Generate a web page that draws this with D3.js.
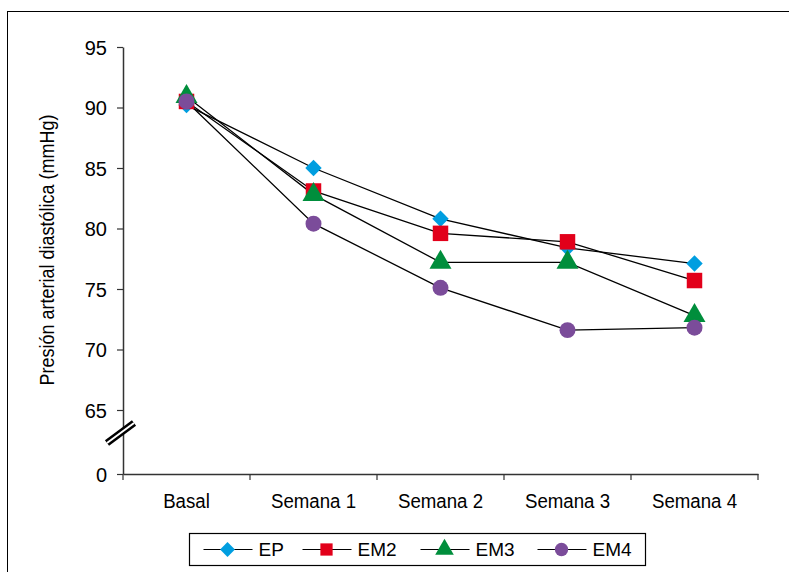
<!DOCTYPE html>
<html>
<head>
<meta charset="utf-8">
<script src="https://cdn.jsdelivr.net/npm/d3@7"></script>
<style>
  body { margin: 0; background: #fff; }
  svg { display: block; font-family: 'Liberation Sans Narrow', 'Arial Narrow', 'Liberation Sans', Arial, sans-serif; }
</style>
</head>
<body>
<div id="chart"></div>
<script>
// data
const categories = ['Basal', 'Semana 1', 'Semana 2', 'Semana 3', 'Semana 4'];
const seriesNames = ['EP', 'EM2', 'EM3', 'EM4'];
const valuesEP = [90.2, 85.0, 80.8, 78.4, 77.1];
const valuesEM2 = [90.5, 83.1, 79.6, 78.9, 75.7];
const valuesEM3 = [90.9, 82.8, 77.2, 77.2, 72.8];
const valuesEM4 = [90.5, 80.4, 75.1, 71.6, 71.8];
const yTicks = [0, 65, 70, 75, 80, 85, 90, 95];

const width = 789;
const height = 572;
const margin = { top: 47, left: 123, right: 31, bottom: 98 };
const chartWidth = width - margin.left - margin.right;
const chartHeight = height - margin.top - margin.bottom;

const colors = ['#009ee0', '#e2001a', '#008e3c', '#7b4c9a'];
// diamond = square rotated 45 deg
const symbols = [d3.symbolSquare, d3.symbolSquare, d3.symbolTriangle, d3.symbolCircle];
const rotations = [45, 0, 0, 0];
const symbolSizes = [135, 240, 210, 200];
const legendSizes = [110, 150, 150, 140];
const allValues = [valuesEP, valuesEM2, valuesEM3, valuesEM4];

const x = d3.scaleBand()
  .domain(categories)
  .range([0, chartWidth])
  .paddingInner(0)
  .paddingOuter(0);

// broken axis: 0 sits one step below 65
const y = d3.scaleLinear()
  .domain([0, 65, 95])
  .range([chartHeight, chartHeight - 64, 0]);

const svg = d3.select('#chart')
  .append('svg')
  .attr('width', width)
  .attr('height', height);

// outer frame (cut by the window on right/bottom)
svg.append('rect')
  .attr('x', 7.5)
  .attr('y', 11.5)
  .attr('width', 900)
  .attr('height', 700)
  .attr('fill', 'none')
  .attr('stroke', '#000')
  .attr('stroke-width', 1);

const g = svg.append('g')
  .attr('transform', `translate(${margin.left}, ${margin.top})`);

const yG = g.append('g')
  .call(d3.axisLeft(y).tickValues(yTicks).tickSize(6).tickSizeOuter(0).tickPadding(10));
yG.select('path').style('stroke', '#333').style('stroke-width', 1.5);
yG.selectAll('line').style('stroke', '#333').style('stroke-width', 1.2);
yG.selectAll('text')
  .style('font-size', '20px')
  .style('fill', '#000')
  .attr('dy', '0.36em');

const xG = g.append('g')
  .attr('transform', `translate(0, ${chartHeight})`)
  .call(d3.axisBottom(x).tickSize(0).tickPadding(19));
xG.select('path').style('stroke', '#333').style('stroke-width', 1.5);
xG.selectAll('text')
  .style('font-size', '21px')
  .style('fill', '#000')
  .attr('transform', 'scale(0.89, 1)');

// band boundary ticks
const boundaries = categories.map(c => x(c)).concat([chartWidth]);
g.append('g')
  .selectAll('line')
  .data(boundaries)
  .enter()
  .append('line')
  .attr('x1', d => d)
  .attr('x2', d => d)
  .attr('y1', chartHeight)
  .attr('y2', chartHeight + 6)
  .style('stroke', '#333')
  .style('stroke-width', 1.2);

// axis break mark
const breakY = (y(0) + y(65)) / 2 - 8;
const brk = g.append('g').attr('transform', `translate(-2, ${breakY})`);
brk.append('line')
  .attr('x1', -14).attr('y1', 9).attr('x2', 13).attr('y2', -11)
  .style('stroke', '#000').style('stroke-width', 7);
brk.append('line')
  .attr('x1', -14).attr('y1', 9).attr('x2', 13).attr('y2', -11)
  .style('stroke', '#fff').style('stroke-width', 2);

// y axis title
svg.append('text')
  .attr('transform', `translate(54, 250) rotate(-90) scale(0.9, 1)`)
  .style('text-anchor', 'middle')
  .style('font-size', '20px')
  .attr('fill', '#000')
  .text('Presión arterial diastólica (mmHg)');

const line = d3.line()
  .x((d, i) => x(categories[i]) + x.bandwidth() / 2)
  .y(d => y(d));

allValues.forEach(vals => {
  g.append('path')
    .datum(vals)
    .attr('d', line)
    .attr('fill', 'none')
    .attr('stroke', '#000')
    .attr('stroke-width', 1.3);
});

allValues.forEach((vals, si) => {
  g.append('g')
    .selectAll('path')
    .data(vals)
    .enter()
    .append('path')
    .attr('d', d3.symbol().type(symbols[si]).size(symbolSizes[si]))
    .attr('transform', (d, i) => `translate(${x(categories[i]) + x.bandwidth() / 2}, ${y(d)}) rotate(${rotations[si]})`)
    .attr('fill', colors[si]);
});

// legend
const legend = svg.append('g').attr('transform', 'translate(189.5, 533.5)');
legend.append('rect')
  .attr('width', 456)
  .attr('height', 32)
  .attr('fill', '#fff')
  .attr('stroke', '#000')
  .attr('stroke-width', 1.2);

const legendX = [14, 113, 231, 348];
seriesNames.forEach((name, si) => {
  const lg = legend.append('g').attr('transform', `translate(${legendX[si]}, 16)`);
  lg.append('line')
    .attr('x1', 0).attr('x2', 49)
    .style('stroke', '#000').style('stroke-width', 1.2);
  lg.append('path')
    .attr('d', d3.symbol().type(symbols[si]).size(legendSizes[si]))
    .attr('transform', `translate(24, 0) rotate(${rotations[si]})`)
    .attr('fill', colors[si]);
  lg.append('text')
    .attr('x', 55)
    .attr('dy', '0.36em')
    .style('font-size', '19px')
    .attr('fill', '#000')
    .text(name);
});
</script>
</body>
</html>
